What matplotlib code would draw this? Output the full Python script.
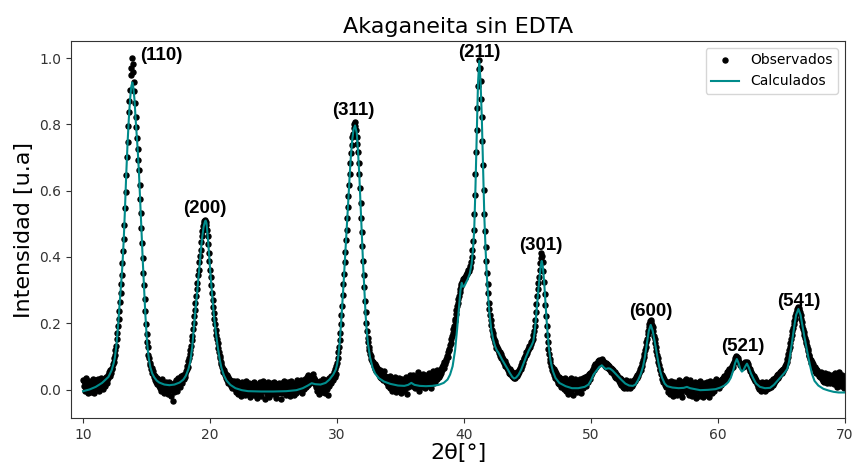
import matplotlib
matplotlib.use("Agg")
import matplotlib.pyplot as plt

# Observed XRD scan: 0.05° steps, one row per degree starting at 10° + row index
obs_start = 10.0
obs_step = 0.05
observed_rows = [
    [0.030, 0.012, 0.025, -0.005, 0.020, 0.034, 0.008, -0.012, 0.018, 0.027, 0.004, 0.015, -0.008, 0.022, 0.010, 0.031, 0.002, 0.017, -0.010, 0.024],
    [0.012, 0.028, 0.005, 0.019, 0.033, -0.004, 0.021, 0.014, 0.036, 0.009, 0.026, 0.018, 0.002, 0.031, 0.024, 0.011, 0.038, 0.020, 0.029, 0.043],
    [0.035, 0.052, 0.041, 0.058, 0.049, 0.066, 0.061, 0.078, 0.083, 0.094, 0.105, 0.118, 0.132, 0.151, 0.170, 0.192, 0.214, 0.238, 0.265, 0.292],
    [0.318, 0.347, 0.382, 0.418, 0.455, 0.497, 0.548, 0.596, 0.648, 0.702, 0.748, 0.794, 0.838, 0.872, 0.905, 0.948, 0.972, 1.000, 0.984, 0.958],
    [0.928, 0.902, 0.866, 0.822, 0.791, 0.758, 0.726, 0.694, 0.662, 0.618, 0.576, 0.532, 0.487, 0.441, 0.398, 0.352, 0.314, 0.272, 0.236, 0.198],
    [0.168, 0.142, 0.127, 0.104, 0.096, 0.081, 0.074, 0.062, 0.066, 0.049, 0.057, 0.038, 0.045, 0.029, 0.041, 0.022, 0.034, 0.018, 0.030, 0.012],
    [0.021, 0.006, 0.027, -0.004, 0.015, 0.032, 0.002, 0.019, -0.011, 0.011, 0.024, -0.006, 0.014, 0.003, -0.015, 0.009, 0.022, -0.002, 0.013, -0.019],
    [0.004, -0.034, 0.012, -0.008, 0.020, 0.001, 0.028, 0.010, -0.005, 0.024, 0.035, 0.014, 0.030, 0.008, 0.026, 0.041, 0.019, 0.036, 0.045, 0.032],
    [0.048, 0.037, 0.055, 0.061, 0.072, 0.068, 0.087, 0.095, 0.108, 0.118, 0.132, 0.149, 0.163, 0.182, 0.201, 0.223, 0.241, 0.262, 0.281, 0.304],
    [0.322, 0.345, 0.361, 0.384, 0.402, 0.421, 0.446, 0.462, 0.478, 0.493, 0.502, 0.508, 0.512, 0.506, 0.497, 0.481, 0.462, 0.438, 0.412, 0.388],
    [0.362, 0.339, 0.314, 0.292, 0.271, 0.248, 0.231, 0.212, 0.198, 0.181, 0.166, 0.152, 0.141, 0.124, 0.113, 0.102, 0.094, 0.083, 0.077, 0.069],
    [0.062, 0.054, 0.058, 0.043, 0.049, 0.036, 0.044, 0.028, 0.039, 0.021, 0.033, 0.016, 0.029, 0.011, 0.025, 0.006, 0.022, 0.014, 0.027, 0.003],
    [0.018, -0.007, 0.011, 0.025, -0.014, 0.004, 0.020, -0.003, 0.013, -0.021, 0.008, 0.023, -0.010, 0.002, 0.016, -0.017, 0.009, 0.027, -0.005, 0.012],
    [-0.012, 0.006, 0.021, -0.024, 0.003, 0.015, -0.008, 0.019, 0.001, -0.016, 0.024, 0.007, -0.003, 0.012, -0.027, 0.010, 0.017, -0.011, 0.005, 0.022],
    [0.002, -0.019, 0.014, 0.026, -0.006, 0.009, -0.028, 0.018, 0.004, -0.013, 0.011, 0.023, -0.002, -0.022, 0.016, 0.006, -0.009, 0.020, 0.000, -0.015],
    [0.013, 0.024, -0.007, 0.005, -0.025, 0.017, 0.008, -0.012, 0.021, -0.004, 0.010, -0.030, 0.003, 0.019, -0.010, 0.012, 0.025, -0.006, 0.007, -0.018],
    [0.015, -0.003, 0.022, -0.014, 0.006, 0.018, -0.021, 0.009, 0.026, -0.008, 0.013, 0.001, -0.016, 0.020, 0.004, -0.011, 0.017, 0.028, -0.001, 0.010],
    [0.021, -0.005, 0.014, 0.029, 0.006, -0.012, 0.018, 0.025, 0.002, 0.016, 0.031, 0.009, 0.022, 0.038, 0.015, 0.043, 0.027, 0.036, 0.019, 0.033],
    [0.041, 0.028, 0.046, 0.022, 0.035, 0.017, 0.030, 0.008, 0.024, -0.006, 0.019, 0.011, -0.015, 0.026, 0.004, 0.021, -0.009, 0.015, 0.032, 0.007],
    [0.024, -0.012, 0.018, 0.030, 0.003, -0.016, 0.021, 0.036, 0.012, 0.027, 0.041, 0.019, 0.033, 0.045, 0.028, 0.052, 0.039, 0.061, 0.048, 0.072],
    [0.081, 0.094, 0.112, 0.128, 0.149, 0.171, 0.197, 0.224, 0.253, 0.286, 0.318, 0.349, 0.384, 0.416, 0.451, 0.482, 0.518, 0.551, 0.584, 0.618],
    [0.652, 0.683, 0.714, 0.738, 0.761, 0.772, 0.788, 0.801, 0.807, 0.795, 0.783, 0.762, 0.741, 0.718, 0.684, 0.651, 0.607, 0.562, 0.518, 0.474],
    [0.432, 0.388, 0.347, 0.309, 0.268, 0.234, 0.201, 0.178, 0.156, 0.143, 0.128, 0.119, 0.108, 0.101, 0.093, 0.087, 0.079, 0.084, 0.071, 0.076],
    [0.062, 0.071, 0.055, 0.066, 0.049, 0.061, 0.043, 0.058, 0.038, 0.052, 0.034, 0.047, 0.029, 0.044, 0.056, 0.031, 0.041, 0.024, 0.038, 0.019],
    [0.035, 0.012, 0.028, 0.041, 0.006, 0.022, 0.033, -0.004, 0.018, 0.029, 0.009, 0.038, 0.015, -0.008, 0.024, 0.031, 0.003, 0.019, 0.036, 0.011],
    [-0.012, 0.021, 0.008, 0.032, -0.006, 0.017, 0.027, 0.002, 0.039, 0.013, -0.015, 0.024, 0.009, 0.034, 0.018, 0.043, 0.026, 0.037, 0.012, 0.029],
    [0.045, 0.016, 0.031, 0.004, 0.025, 0.039, 0.011, 0.052, 0.022, -0.003, 0.034, 0.018, 0.043, 0.008, 0.027, 0.047, 0.014, 0.031, 0.005, 0.038],
    [0.021, 0.044, 0.012, 0.035, 0.026, 0.051, 0.017, 0.038, 0.006, 0.042, 0.029, 0.055, 0.019, 0.036, 0.048, 0.024, 0.041, 0.058, 0.032, 0.049],
    [0.037, 0.056, 0.044, 0.062, 0.051, 0.068, 0.059, 0.074, 0.066, 0.083, 0.077, 0.091, 0.086, 0.102, 0.097, 0.113, 0.121, 0.118, 0.134, 0.141],
    [0.152, 0.163, 0.171, 0.184, 0.192, 0.206, 0.214, 0.228, 0.239, 0.251, 0.262, 0.274, 0.281, 0.293, 0.302, 0.311, 0.318, 0.324, 0.329, 0.333],
    [0.336, 0.341, 0.338, 0.346, 0.351, 0.349, 0.356, 0.362, 0.359, 0.368, 0.374, 0.386, 0.401, 0.422, 0.448, 0.482, 0.531, 0.588, 0.652, 0.718],
    [0.784, 0.851, 0.917, 0.968, 0.994, 0.972, 0.931, 0.878, 0.824, 0.751, 0.678, 0.602, 0.531, 0.478, 0.431, 0.388, 0.352, 0.318, 0.291, 0.262],
    [0.243, 0.226, 0.209, 0.196, 0.181, 0.172, 0.163, 0.151, 0.147, 0.139, 0.134, 0.126, 0.129, 0.118, 0.121, 0.109, 0.114, 0.102, 0.107, 0.095],
    [0.098, 0.087, 0.092, 0.079, 0.085, 0.071, 0.078, 0.064, 0.072, 0.058, 0.066, 0.051, 0.061, 0.046, 0.055, 0.041, 0.052, 0.037, 0.048, 0.035],
    [0.044, 0.036, 0.049, 0.041, 0.053, 0.047, 0.058, 0.054, 0.066, 0.061, 0.073, 0.071, 0.082, 0.079, 0.091, 0.094, 0.101, 0.104, 0.112, 0.109],
    [0.118, 0.121, 0.126, 0.131, 0.129, 0.138, 0.142, 0.147, 0.153, 0.164, 0.176, 0.192, 0.211, 0.234, 0.258, 0.281, 0.303, 0.322, 0.341, 0.362],
    [0.381, 0.398, 0.412, 0.403, 0.384, 0.358, 0.326, 0.289, 0.254, 0.221, 0.192, 0.164, 0.142, 0.121, 0.106, 0.092, 0.083, 0.071, 0.067, 0.058],
    [0.052, 0.061, 0.043, 0.055, 0.036, 0.049, 0.028, 0.044, 0.021, 0.039, 0.016, 0.034, 0.025, 0.008, 0.031, 0.014, 0.027, 0.003, 0.022, 0.035],
    [0.011, -0.006, 0.024, 0.017, -0.014, 0.029, 0.004, 0.019, 0.036, -0.003, 0.013, 0.027, -0.018, 0.008, 0.021, 0.033, 0.001, 0.016, -0.009, 0.025],
    [0.014, -0.004, 0.031, 0.009, 0.022, -0.011, 0.018, 0.035, 0.006, 0.026, 0.015, 0.038, 0.011, 0.029, 0.042, 0.024, 0.036, 0.047, 0.033, 0.051],
    [0.044, 0.057, 0.049, 0.063, 0.058, 0.071, 0.064, 0.076, 0.069, 0.081, 0.074, 0.086, 0.078, 0.089, 0.082, 0.088, 0.079, 0.091, 0.083, 0.087],
    [0.076, 0.084, 0.071, 0.079, 0.068, 0.077, 0.065, 0.074, 0.062, 0.071, 0.059, 0.066, 0.054, 0.063, 0.049, 0.058, 0.045, 0.053, 0.039, 0.048],
    [0.036, 0.044, 0.031, 0.039, 0.025, 0.034, 0.019, 0.031, 0.014, 0.027, 0.009, 0.024, 0.006, 0.021, 0.012, 0.028, 0.004, 0.018, 0.009, 0.023],
    [0.013, 0.026, 0.005, 0.019, 0.011, 0.024, 0.016, 0.029, 0.022, 0.033, 0.027, 0.038, 0.034, 0.045, 0.041, 0.052, 0.049, 0.061, 0.058, 0.069],
    [0.072, 0.081, 0.089, 0.098, 0.106, 0.118, 0.129, 0.142, 0.153, 0.167, 0.178, 0.189, 0.198, 0.206, 0.211, 0.204, 0.196, 0.188, 0.176, 0.163],
    [0.152, 0.139, 0.127, 0.116, 0.103, 0.094, 0.082, 0.074, 0.063, 0.058, 0.047, 0.044, 0.033, 0.038, 0.024, 0.031, 0.015, 0.026, 0.008, 0.021],
    [0.014, -0.008, 0.022, 0.003, -0.015, 0.018, 0.027, -0.004, 0.011, -0.021, 0.009, 0.024, -0.011, 0.016, 0.002, -0.018, 0.020, 0.006, -0.007, 0.029],
    [0.005, -0.013, 0.019, 0.012, -0.024, 0.008, 0.026, -0.002, 0.017, 0.031, 0.010, -0.009, 0.022, 0.004, -0.017, 0.015, 0.028, -0.005, 0.013, -0.020],
    [0.018, 0.002, -0.014, 0.023, 0.007, -0.026, 0.012, 0.020, -0.006, 0.015, -0.019, 0.004, 0.025, -0.010, 0.009, 0.017, -0.022, 0.006, 0.021, -0.003],
    [0.011, -0.016, 0.024, 0.003, -0.008, 0.019, -0.023, 0.013, 0.027, -0.001, 0.008, -0.012, 0.021, 0.016, -0.005, 0.026, 0.010, 0.031, 0.007, 0.022],
    [0.012, 0.026, 0.004, 0.019, 0.028, 0.013, 0.032, 0.021, 0.036, 0.024, 0.041, 0.031, 0.045, 0.038, 0.052, 0.044, 0.056, 0.049, 0.061, 0.058],
    [0.066, 0.062, 0.071, 0.069, 0.077, 0.083, 0.088, 0.094, 0.097, 0.101, 0.098, 0.094, 0.089, 0.083, 0.079, 0.074, 0.071, 0.068, 0.072, 0.069],
    [0.074, 0.078, 0.076, 0.082, 0.079, 0.084, 0.081, 0.076, 0.072, 0.066, 0.063, 0.057, 0.054, 0.047, 0.045, 0.038, 0.041, 0.032, 0.034, 0.025],
    [0.029, 0.018, 0.024, 0.009, 0.021, 0.003, 0.016, -0.006, 0.012, 0.022, -0.002, 0.015, 0.006, 0.019, -0.004, 0.011, 0.024, 0.002, 0.017, 0.008],
    [0.021, 0.004, 0.016, 0.027, 0.009, 0.022, 0.014, 0.031, 0.019, 0.035, 0.026, 0.038, 0.029, 0.043, 0.034, 0.047, 0.041, 0.052, 0.046, 0.055],
    [0.051, 0.058, 0.055, 0.063, 0.061, 0.068, 0.072, 0.078, 0.084, 0.091, 0.099, 0.108, 0.118, 0.129, 0.141, 0.153, 0.164, 0.176, 0.186, 0.197],
    [0.206, 0.214, 0.223, 0.231, 0.238, 0.244, 0.249, 0.247, 0.241, 0.234, 0.226, 0.214, 0.203, 0.193, 0.184, 0.174, 0.165, 0.156, 0.147, 0.139],
    [0.131, 0.122, 0.116, 0.104, 0.101, 0.092, 0.088, 0.079, 0.083, 0.071, 0.076, 0.064, 0.069, 0.057, 0.062, 0.051, 0.058, 0.046, 0.053, 0.041],
    [0.048, 0.037, 0.052, 0.031, 0.044, 0.026, 0.041, 0.023, 0.038, 0.049, 0.029, 0.042, 0.021, 0.036, 0.047, 0.027, 0.039, 0.019, 0.033, 0.045],
    [0.028, 0.041, 0.016, 0.035, 0.051, 0.022, 0.038, 0.009, 0.031, 0.047, 0.018, 0.054, 0.026, 0.039, 0.012, 0.044, 0.021, 0.035, 0.006, 0.029],
    [0.017],
]

# Calculated (refined) profile
calc_2theta = [
    10.0, 10.5, 11.0, 11.5, 12.0, 12.25, 12.4, 12.5, 12.6, 12.7, 12.8, 12.9, 13.0, 13.1, 13.2, 13.3, 13.4, 13.5,
    13.6, 13.7, 13.8, 13.88, 13.95, 14.05, 14.15, 14.3, 14.4, 14.5, 14.6, 14.7, 14.8, 14.9, 15.0, 15.1, 15.2,
    15.3, 15.45, 15.6, 15.8, 16.0, 16.4, 16.8, 17.2, 17.6, 17.9, 18.1, 18.3, 18.45, 18.6, 18.7, 18.8, 18.9,
    19.0, 19.1, 19.2, 19.3, 19.4, 19.5, 19.6, 19.65, 19.72, 19.8, 19.9, 20.0, 20.1, 20.2, 20.3, 20.4, 20.5,
    20.6, 20.75, 20.9, 21.1, 21.3, 21.6, 22.0, 22.5, 23.0, 24.0, 25.0, 26.0, 26.8, 27.3, 27.7, 28.0, 28.3,
    28.7, 29.1, 29.4, 29.7, 29.9, 30.0, 30.1, 30.2, 30.3, 30.4, 30.5, 30.6, 30.7, 30.8, 30.9, 31.0, 31.1,
    31.2, 31.3, 31.42, 31.55, 31.65, 31.75, 31.85, 31.95, 32.05, 32.15, 32.25, 32.35, 32.45, 32.6, 32.8,
    33.0, 33.3, 33.7, 34.2, 34.8, 35.3, 35.6, 35.85, 36.1, 36.5, 37.0, 37.5, 38.0, 38.4, 38.7, 38.9, 39.1,
    39.3, 39.45, 39.6, 39.72, 39.82, 39.92, 40.02, 40.15, 40.3, 40.45, 40.6, 40.7, 40.8, 40.9, 41.0, 41.1,
    41.2, 41.3, 41.4, 41.5, 41.6, 41.7, 41.8, 41.9, 42.0, 42.15, 42.3, 42.45, 42.6, 42.7, 42.8, 43.0, 43.2,
    43.4, 43.6, 43.8, 43.95, 44.1, 44.3, 44.5, 44.7, 44.9, 45.1, 45.3, 45.45, 45.55, 45.65, 45.75, 45.85,
    45.95, 46.05, 46.12, 46.2, 46.3, 46.4, 46.5, 46.6, 46.7, 46.8, 46.9, 47.0, 47.2, 47.5, 48.0, 48.5, 49.0,
    49.5, 49.8, 50.0, 50.2, 50.45, 50.65, 50.85, 51.0, 51.15, 51.35, 51.5, 51.7, 51.9, 52.1, 52.4, 52.7,
    53.0, 53.3, 53.5, 53.7, 53.9, 54.1, 54.25, 54.4, 54.55, 54.7, 54.85, 55.0, 55.15, 55.3, 55.45, 55.6,
    55.8, 56.0, 56.4, 56.9, 57.3, 57.55, 57.8, 58.2, 58.6, 59.2, 59.8, 60.2, 60.5, 60.8, 61.0, 61.2, 61.35,
    61.48, 61.6, 61.75, 61.88, 62.0, 62.15, 62.28, 62.42, 62.6, 62.8, 63.0, 63.3, 63.7, 64.1, 64.4, 64.7,
    65.0, 65.25, 65.45, 65.6, 65.8, 66.0, 66.15, 66.33, 66.5, 66.65, 66.8, 66.95, 67.1, 67.25, 67.4, 67.6,
    67.9, 68.3, 68.7, 69.1, 69.5, 70.0,
]
calc_intensity = [
    -0.005, 0.000, 0.008, 0.020, 0.038, 0.058, 0.078, 0.095, 0.125, 0.165, 0.215, 0.27, 0.32, 0.375, 0.45, 0.545, 0.65, 0.74,
    0.815, 0.875, 0.915, 0.927, 0.915, 0.875, 0.81, 0.725, 0.655, 0.57, 0.48, 0.39, 0.31, 0.23, 0.165, 0.118, 0.088,
    0.067, 0.048, 0.037, 0.027, 0.021, 0.015, 0.013, 0.015, 0.021, 0.03, 0.042, 0.062, 0.085, 0.13, 0.175, 0.22, 0.26,
    0.30, 0.345, 0.385, 0.43, 0.465, 0.492, 0.507, 0.51, 0.502, 0.47, 0.42, 0.365, 0.315, 0.27, 0.225, 0.19, 0.16,
    0.13, 0.093, 0.065, 0.042, 0.027, 0.014, 0.004, -0.002, -0.005, -0.006, -0.006, -0.005, -0.002, 0.004, 0.012, 0.019, 0.016,
    0.015, 0.02, 0.03, 0.045, 0.06, 0.075, 0.10, 0.14, 0.19, 0.25, 0.31, 0.38, 0.445, 0.51, 0.58, 0.65, 0.71,
    0.755, 0.785, 0.797, 0.775, 0.72, 0.65, 0.56, 0.47, 0.38, 0.30, 0.225, 0.17, 0.135, 0.097, 0.066,
    0.048, 0.034, 0.024, 0.017, 0.012, 0.011, 0.014, 0.02, 0.014, 0.011, 0.010, 0.011, 0.014, 0.02, 0.03, 0.045, 0.07,
    0.12, 0.18, 0.245, 0.30, 0.322, 0.31, 0.312, 0.322, 0.334, 0.35, 0.38, 0.42, 0.48, 0.61, 0.77, 0.925,
    0.992, 0.93, 0.82, 0.67, 0.52, 0.42, 0.34, 0.28, 0.23, 0.18, 0.15, 0.13, 0.117, 0.112, 0.105, 0.09, 0.077,
    0.064, 0.05, 0.038, 0.033, 0.036, 0.045, 0.06, 0.08, 0.10, 0.118, 0.132, 0.145, 0.17, 0.21, 0.255, 0.30,
    0.34, 0.375, 0.388, 0.372, 0.33, 0.27, 0.21, 0.16, 0.12, 0.09, 0.07, 0.055, 0.035, 0.02, 0.01, 0.004, 0.004,
    0.008, 0.015, 0.028, 0.045, 0.058, 0.068, 0.073, 0.067, 0.062, 0.064, 0.063, 0.057, 0.049, 0.041, 0.029, 0.018,
    0.012, 0.011, 0.015, 0.028, 0.045, 0.07, 0.10, 0.14, 0.177, 0.195, 0.178, 0.148, 0.115, 0.082, 0.055, 0.035,
    0.018, 0.01, 0.006, 0.004, 0.005, 0.008, 0.004, 0.001, -0.002, -0.001, 0.001, 0.006, 0.012, 0.022, 0.035, 0.058, 0.08,
    0.092, 0.082, 0.062, 0.054, 0.058, 0.07, 0.078, 0.067, 0.048, 0.032, 0.018, 0.008, 0.004, 0.005, 0.014, 0.027,
    0.04, 0.051, 0.062, 0.085, 0.135, 0.19, 0.225, 0.243, 0.225, 0.192, 0.16, 0.13, 0.10, 0.072, 0.047, 0.026,
    0.012, 0.002, -0.003, -0.007, -0.009, -0.009,
]

# Miller-index labels of the main reflections
peak_labels = ["(110)", "(200)", "(311)", "(211)", "(301)", "(600)", "(521)", "(541)"]
label_2theta = [16.14, 19.58, 31.29, 41.20, 46.02, 54.74, 61.97, 66.35]
label_intensity = [1.007, 0.546, 0.842, 1.017, 0.436, 0.236, 0.130, 0.266]

obs_2theta = []
obs_intensity = []
for r, row in enumerate(observed_rows):
    for i, v in enumerate(row):
        obs_2theta.append(round(obs_start + r + i * obs_step, 2))
        obs_intensity.append(v)

fig = plt.figure(figsize=(8.55, 4.65), dpi=100)
ax = fig.add_axes([71 / 855, 1 - 418 / 465, (845 - 71) / 855, (418 - 41) / 465])

ax.plot(obs_2theta, obs_intensity, "o", color="black", markersize=3.6,
        label="Observados", zorder=2)
ax.plot(calc_2theta, calc_intensity, color="darkcyan", linewidth=1.5,
        label="Calculados", zorder=3)

for lab, lx, ly in zip(peak_labels, label_2theta, label_intensity):
    ax.text(lx, ly, lab, ha="center", va="center", fontsize=13.5,
            fontweight="bold", family="Liberation Sans", zorder=4)

ax.set_xlim(9.05, 70)
ax.set_ylim(-0.086, 1.052)
ax.set_xticks([10, 20, 30, 40, 50, 60, 70])
ax.set_yticks([0.0, 0.2, 0.4, 0.6, 0.8, 1.0])
ax.tick_params(labelsize=10, colors="#333333")
for sp in ax.spines.values():
    sp.set_color("#333333")

ax.set_title("Akaganeita sin EDTA", fontsize=16)
ax.set_xlabel("2θ[°]", fontsize=16, labelpad=1)
ax.set_ylabel("Intensidad [u.a]", fontsize=16)
ax.legend(loc="upper right", fontsize=10)

fig.savefig("out.png", dpi=100)
